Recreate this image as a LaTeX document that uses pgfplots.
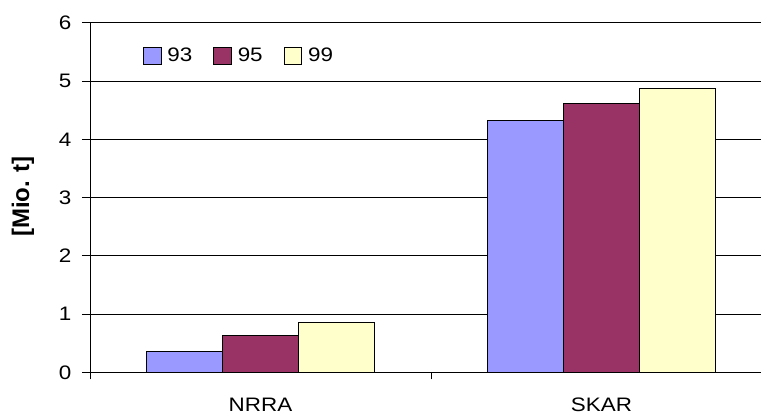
\documentclass[border=0pt]{standalone}
\usepackage{fontspec}
\setmainfont[FakeStretch=1.15]{Liberation Sans}
\newfontfamily\labelfont{Liberation Sans}
\usepackage{pgfplots}
\pgfplotsset{compat=1.18}
\definecolor{c93}{HTML}{9999FF}
\definecolor{c95}{HTML}{993366}
\definecolor{c99}{HTML}{FFFFCC}
\begin{document}
\fontsize{19.5bp}{23bp}\selectfont
\begin{tikzpicture}
\begin{axis}[
  scale only axis,
  width=671bp, height=349.8bp,
  xmin=-0.5, xmax=1.468,
  ymin=0, ymax=6,
  ytick={0,1,2,3,4,5,6},
  xtick={0,1},
  xticklabels={NRRA,SKAR},
  minor xtick={-0.5,0.5,1.5},
  axis x line*=bottom,
  axis y line*=left,
  tick align=outside,
  major tick length=8bp,
  minor tick length=7bp,
  major x tick style={draw=none},
  ymajorgrids,
  grid style={black, line width=0.8bp},
  axis line style={black, line width=0.8bp},
  tick style={black, line width=0.8bp},
  /pgf/number format/assume math mode=true,
  ticklabel style={font=\fontsize{19.5bp}{23bp}\selectfont},
  yticklabel style={xshift=-4bp},
  xticklabel style={yshift=-11bp},
  ylabel={\textbf{[Mio. t]}},
  ylabel style={at={(axis description cs:-0.1, 0.503)}, anchor=center, font=\labelfont\fontsize{24bp}{28bp}\selectfont},
  ybar=0pt,
  bar width=0.2225,
  legend columns=3,
  legend style={draw=none, fill=none, at={(axis description cs:0.074,0.94)}, anchor=north west,
    font=\fontsize{19.5bp}{23bp}\selectfont, column sep=0bp,
    /tikz/every odd column/.append style={column sep=4bp},
    /tikz/every even column/.append style={column sep=19bp}},
  legend cell align=left,
  legend image code/.code={\draw[#1, line width=0.8bp] (0bp,-8.3bp) rectangle (17.7bp,8.3bp);},
]
\addplot[draw=black, line width=0.9bp, fill=c93] coordinates {(0,0.36) (1,4.32)};
\addplot[draw=black, line width=0.9bp, fill=c95] coordinates {(0,0.64) (1,4.61)};
\addplot[draw=black, line width=0.9bp, fill=c99] coordinates {(0,0.86) (1,4.87)};
\legend{93,95,99}
\end{axis}
\pgfresetboundingbox
\path[use as bounding box] ([xshift=-90bp,yshift=-43.5bp]current axis.south west) rectangle ([xshift=1bp,yshift=22.7bp]current axis.north east);
\end{tikzpicture}
\end{document}
